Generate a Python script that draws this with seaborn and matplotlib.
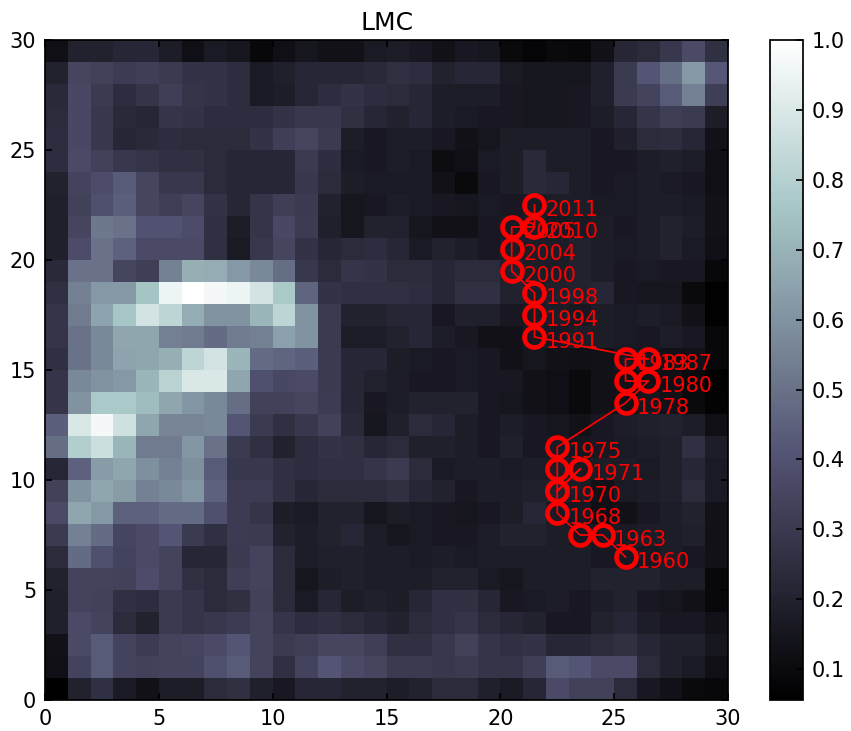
import numpy as np
import matplotlib
matplotlib.use("Agg")
import matplotlib.pyplot as plt
import seaborn as sns

# ---- heatmap values, one list per map row (row 29 = top, row 0 = bottom) ----
row29 = [0.12,0.20,0.20,0.22,0.22,0.18,0.12,0.17,0.15,0.09,0.12,0.15,0.13,0.13,0.17,0.18,0.16,0.13,0.16,0.15,0.10,0.08,0.10,0.09,0.13,0.22,0.24,0.29,0.37,0.26]
row28 = [0.20,0.35,0.33,0.31,0.32,0.30,0.27,0.27,0.25,0.17,0.19,0.22,0.22,0.22,0.23,0.26,0.25,0.20,0.22,0.22,0.17,0.15,0.15,0.15,0.19,0.30,0.41,0.49,0.62,0.42]
row27 = [0.23,0.36,0.30,0.25,0.28,0.32,0.28,0.27,0.25,0.17,0.18,0.22,0.25,0.27,0.25,0.24,0.22,0.18,0.18,0.18,0.16,0.15,0.15,0.16,0.19,0.30,0.34,0.43,0.54,0.32]
row26 = [0.24,0.36,0.29,0.23,0.22,0.28,0.27,0.25,0.25,0.25,0.27,0.29,0.29,0.26,0.22,0.20,0.22,0.18,0.17,0.16,0.16,0.15,0.15,0.16,0.18,0.22,0.28,0.32,0.30,0.18]
row25 = [0.25,0.36,0.29,0.22,0.23,0.25,0.24,0.24,0.24,0.27,0.32,0.35,0.30,0.18,0.16,0.18,0.18,0.16,0.13,0.15,0.18,0.18,0.18,0.18,0.16,0.19,0.24,0.25,0.22,0.13]
row24 = [0.25,0.37,0.33,0.29,0.28,0.26,0.26,0.24,0.22,0.22,0.22,0.30,0.25,0.17,0.16,0.18,0.17,0.11,0.12,0.17,0.18,0.23,0.18,0.18,0.16,0.16,0.18,0.19,0.18,0.12]
row23 = [0.20,0.34,0.38,0.43,0.35,0.29,0.29,0.24,0.22,0.22,0.22,0.29,0.24,0.18,0.17,0.17,0.17,0.13,0.10,0.16,0.18,0.23,0.22,0.18,0.16,0.17,0.18,0.17,0.16,0.12]
row22 = [0.19,0.33,0.39,0.44,0.35,0.32,0.35,0.27,0.22,0.28,0.32,0.30,0.20,0.15,0.16,0.18,0.17,0.16,0.15,0.17,0.16,0.17,0.18,0.18,0.17,0.17,0.18,0.18,0.17,0.13]
row21 = [0.19,0.35,0.52,0.50,0.40,0.40,0.38,0.26,0.18,0.28,0.36,0.31,0.19,0.15,0.20,0.20,0.15,0.13,0.13,0.16,0.17,0.18,0.16,0.17,0.18,0.16,0.18,0.20,0.18,0.13]
row20 = [0.19,0.38,0.50,0.45,0.37,0.37,0.37,0.26,0.17,0.29,0.35,0.27,0.22,0.24,0.25,0.22,0.17,0.20,0.18,0.16,0.18,0.18,0.18,0.20,0.18,0.17,0.18,0.20,0.17,0.12]
row19 = [0.23,0.50,0.50,0.35,0.32,0.55,0.69,0.68,0.62,0.57,0.49,0.29,0.24,0.28,0.27,0.24,0.24,0.22,0.24,0.24,0.20,0.18,0.18,0.20,0.18,0.16,0.17,0.16,0.16,0.09]
row18 = [0.26,0.55,0.62,0.62,0.75,0.95,1.00,0.97,0.95,0.88,0.77,0.46,0.27,0.26,0.26,0.26,0.25,0.22,0.26,0.26,0.20,0.18,0.19,0.20,0.22,0.16,0.15,0.15,0.10,0.06]
row17 = [0.28,0.53,0.65,0.76,0.88,0.82,0.68,0.60,0.60,0.71,0.82,0.60,0.30,0.20,0.20,0.22,0.22,0.16,0.19,0.19,0.16,0.17,0.18,0.16,0.18,0.17,0.18,0.17,0.13,0.06]
row16 = [0.28,0.50,0.57,0.66,0.66,0.54,0.53,0.48,0.53,0.54,0.64,0.60,0.30,0.18,0.18,0.20,0.22,0.18,0.16,0.13,0.13,0.16,0.16,0.18,0.18,0.17,0.16,0.18,0.16,0.09]
row15 = [0.26,0.50,0.57,0.65,0.66,0.69,0.82,0.88,0.71,0.48,0.46,0.44,0.30,0.22,0.22,0.18,0.17,0.16,0.17,0.16,0.13,0.15,0.13,0.12,0.13,0.16,0.16,0.13,0.13,0.09]
row14 = [0.28,0.57,0.60,0.62,0.71,0.81,0.90,0.90,0.66,0.39,0.36,0.37,0.30,0.22,0.20,0.18,0.16,0.16,0.17,0.16,0.16,0.13,0.12,0.10,0.13,0.13,0.13,0.12,0.10,0.06]
row13 = [0.28,0.60,0.77,0.77,0.73,0.66,0.61,0.57,0.49,0.33,0.33,0.35,0.31,0.22,0.16,0.18,0.20,0.20,0.20,0.16,0.15,0.13,0.12,0.10,0.13,0.13,0.15,0.13,0.10,0.07]
row12 = [0.44,0.90,0.97,0.87,0.66,0.56,0.56,0.57,0.41,0.30,0.26,0.29,0.33,0.23,0.15,0.19,0.24,0.22,0.18,0.16,0.18,0.16,0.15,0.13,0.16,0.18,0.19,0.20,0.18,0.12]
row11 = [0.49,0.79,0.86,0.71,0.53,0.53,0.61,0.50,0.30,0.26,0.20,0.25,0.27,0.26,0.22,0.24,0.19,0.19,0.18,0.16,0.19,0.16,0.17,0.15,0.16,0.17,0.18,0.19,0.26,0.18]
row10 = [0.22,0.45,0.63,0.66,0.59,0.55,0.59,0.43,0.29,0.29,0.26,0.25,0.26,0.26,0.28,0.30,0.24,0.17,0.18,0.18,0.17,0.18,0.18,0.17,0.18,0.18,0.17,0.19,0.22,0.17]
row9  = [0.33,0.60,0.66,0.63,0.55,0.57,0.61,0.45,0.31,0.31,0.26,0.22,0.24,0.24,0.24,0.26,0.22,0.20,0.16,0.18,0.18,0.19,0.20,0.18,0.13,0.17,0.18,0.19,0.24,0.17]
row8  = [0.37,0.66,0.62,0.45,0.45,0.48,0.48,0.39,0.31,0.28,0.18,0.17,0.20,0.20,0.15,0.18,0.17,0.16,0.15,0.16,0.18,0.22,0.17,0.16,0.12,0.13,0.16,0.18,0.20,0.13]
row7  = [0.30,0.55,0.48,0.35,0.37,0.41,0.30,0.26,0.31,0.30,0.20,0.18,0.20,0.22,0.18,0.15,0.17,0.16,0.16,0.18,0.20,0.20,0.18,0.16,0.16,0.17,0.18,0.18,0.19,0.13]
row6  = [0.24,0.48,0.39,0.34,0.37,0.34,0.22,0.22,0.30,0.34,0.24,0.18,0.19,0.19,0.18,0.18,0.17,0.18,0.17,0.18,0.18,0.18,0.18,0.18,0.16,0.16,0.16,0.18,0.16,0.13]
row5  = [0.20,0.34,0.34,0.33,0.38,0.34,0.26,0.24,0.32,0.34,0.24,0.15,0.18,0.19,0.18,0.18,0.18,0.20,0.20,0.17,0.15,0.18,0.18,0.18,0.20,0.20,0.20,0.18,0.18,0.09]
row4  = [0.19,0.34,0.33,0.26,0.25,0.30,0.28,0.24,0.26,0.33,0.24,0.17,0.22,0.18,0.19,0.18,0.22,0.26,0.26,0.22,0.16,0.17,0.18,0.16,0.18,0.20,0.16,0.15,0.13,0.09]
row3  = [0.19,0.37,0.34,0.24,0.20,0.30,0.28,0.29,0.31,0.34,0.28,0.25,0.26,0.24,0.22,0.20,0.24,0.26,0.28,0.24,0.22,0.20,0.16,0.16,0.20,0.22,0.18,0.16,0.16,0.13]
row2  = [0.13,0.37,0.43,0.34,0.31,0.34,0.35,0.37,0.41,0.34,0.30,0.32,0.35,0.35,0.32,0.26,0.26,0.29,0.33,0.28,0.26,0.27,0.22,0.22,0.24,0.26,0.22,0.19,0.19,0.15]
row1  = [0.12,0.34,0.43,0.34,0.33,0.34,0.34,0.39,0.43,0.34,0.26,0.34,0.41,0.37,0.35,0.30,0.30,0.29,0.30,0.28,0.28,0.32,0.43,0.41,0.37,0.37,0.24,0.19,0.17,0.12]
row0  = [0.056,0.20,0.26,0.17,0.13,0.18,0.18,0.24,0.26,0.19,0.16,0.22,0.22,0.20,0.20,0.18,0.20,0.24,0.24,0.19,0.17,0.22,0.37,0.33,0.33,0.24,0.16,0.13,0.10,0.09]

rows_top_to_bottom = [row29, row28, row27, row26, row25, row24, row23, row22, row21, row20,
                      row19, row18, row17, row16, row15, row14, row13, row12, row11, row10,
                      row9, row8, row7, row6, row5, row4, row3, row2, row1, row0]

# ---- trajectory (chronological) ----
traj_x = [25.5, 24.5, 23.5, 22.5, 22.5, 23.5, 22.5, 22.5, 22.5, 25.5, 26.5, 25.5, 25.5, 26.5,
          21.5, 21.5, 21.5, 20.5, 20.5, 20.5, 21.5, 21.5]
traj_y = [6.5, 7.5, 7.5, 8.5, 9.5, 10.5, 9.5, 10.5, 11.5, 13.5, 14.5, 14.5, 15.5, 15.5,
          16.5, 17.5, 18.5, 19.5, 20.5, 21.5, 21.5, 22.5]
traj_labels = ["1960", "1963", "", "1968", "1970", "1971", "", "", "1975", "1978", "1980", "",
               "1983", "1987", "1991", "1994", "1998", "2000", "2004", "2005", "2010", "2011"]

cbar_ticks = [0.1, 0.2, 0.3, 0.4, 0.5, 0.6, 0.7, 0.8, 0.9, 1.0]
axis_ticks = [0, 5, 10, 15, 20, 25, 30]

# ---- figure ----
DPI = 125
fig = plt.figure(figsize=(851 / DPI, 731 / DPI), dpi=DPI, facecolor="white")
ax = fig.add_axes([45 / 851, 31 / 731, 683 / 851, 660 / 731])
cax = fig.add_axes([770 / 851, 31 / 731, 33 / 851, 660 / 731])

grid = np.array(rows_top_to_bottom)[::-1]  # index 0 = bottom row
sns.heatmap(grid, ax=ax, cbar_ax=cax, cmap="bone", vmin=0.056, vmax=1.0,
            xticklabels=False, yticklabels=False)

ax.set_xlim(0, 30)
ax.set_ylim(0, 30)
for s in ax.spines.values():
    s.set_visible(True)
    s.set_color("black")
    s.set_linewidth(1.0)

ax.set_xticks(axis_ticks)
ax.set_xticklabels([str(t) for t in axis_ticks])
ax.set_yticks(axis_ticks)
ax.set_yticklabels([str(t) for t in axis_ticks], rotation=0)
ax.tick_params(direction="in", length=4, width=1, top=True, right=True,
               labelsize=12, color="black", pad=5)
ax.set_title("LMC", fontsize=14.4, pad=6)

# trajectory
ax.plot(traj_x, traj_y, "-", color="red", lw=1.0, zorder=3)
ax.plot(traj_x, traj_y, "o", mfc="none", mec="red", ms=11.5, mew=2.7, zorder=4)
for x, y, lab in zip(traj_x, traj_y, traj_labels):
    if lab:
        ax.text(x + 0.5, y - 0.5, lab, color="red", fontsize=12, zorder=5)

# colorbar
cbar = ax.collections[0].colorbar
cbar.set_ticks(cbar_ticks)
cbar.set_ticklabels([f"{t:.1f}" for t in cbar_ticks])
cbar.outline.set_visible(True)
cbar.outline.set_linewidth(1.0)
cbar.outline.set_edgecolor("black")
cax.tick_params(direction="in", length=4, width=1, labelsize=12, color="black", pad=5)

fig.savefig("out.png", dpi=DPI, facecolor="white")
